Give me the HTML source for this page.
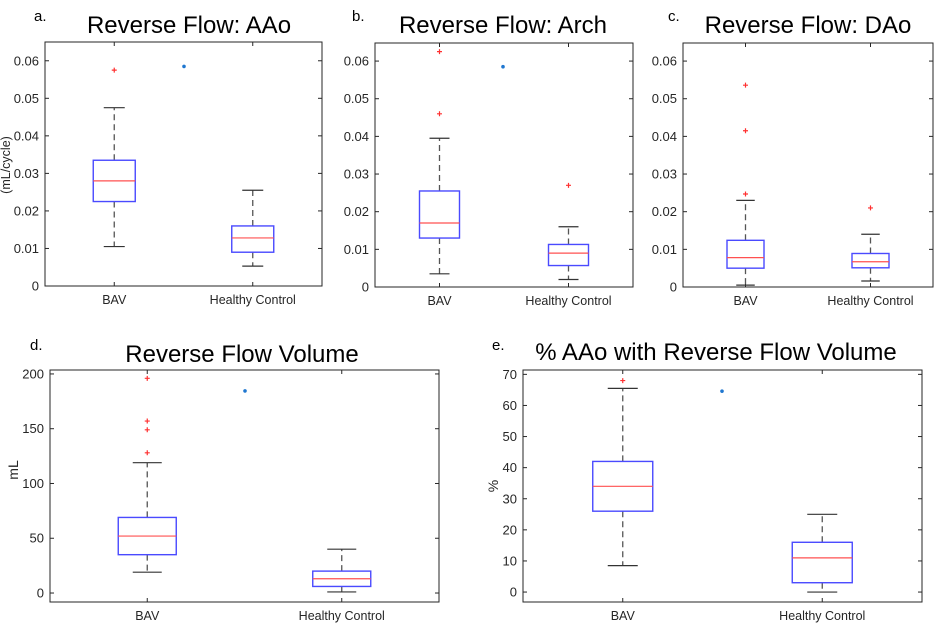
<!DOCTYPE html>
<html><head><meta charset="utf-8"><style>
html,body{margin:0;padding:0;background:#fff;}
svg{display:block;font-family:"Liberation Sans",Arial,sans-serif;}
</style></head><body>
<svg id="s" width="949" height="629" xmlns="http://www.w3.org/2000/svg"></svg>
<script>
const S=document.getElementById('s');let h='';
function panel(p){
 const {L,R,T,B,ymin,ymax,ticks,fmt}=p;
 const Y=v=>B-(v-ymin)/(ymax-ymin)*(B-T);
 const cx=[L+(R-L)*0.25,L+(R-L)*0.75];
 h+=`<rect x="${L}" y="${T}" width="${R-L}" height="${B-T}" fill="none" stroke="#262626" stroke-width="1"/>`;
 ticks.forEach(t=>{const y=Y(t);
  h+=`<line x1="${L}" x2="${L+4}" y1="${y}" y2="${y}" stroke="#262626"/><line x1="${R}" x2="${R-4}" y1="${y}" y2="${y}" stroke="#262626"/>`;
  h+=`<text x="${L-6}" y="${y+4.5}" font-size="13" fill="#262626" text-anchor="end">${fmt(t)}</text>`;});
 ['BAV','Healthy Control'].forEach((n,i)=>{const x=cx[i];
  h+=`<line x1="${x}" x2="${x}" y1="${B}" y2="${B-4}" stroke="#262626"/><line x1="${x}" x2="${x}" y1="${T}" y2="${T+4}" stroke="#262626"/>`;
  h+=`<text x="${x}" y="${B+18}" font-size="12.5" fill="#262626" text-anchor="middle">${n}</text>`;});
 p.boxes.forEach((b,i)=>{const x=cx[i],w=p.bw,cw=w/2;
  const [wl,q1,md,q3,wh]=b.v;
  h+=`<line x1="${x}" x2="${x}" y1="${Y(q3)}" y2="${Y(wh)}" stroke="#555" stroke-dasharray="6,4" stroke-width="1.3"/>`;
  h+=`<line x1="${x}" x2="${x}" y1="${Y(q1)}" y2="${Y(wl)}" stroke="#555" stroke-dasharray="6,4" stroke-width="1.3"/>`;
  h+=`<line x1="${x-cw/2}" x2="${x+cw/2}" y1="${Y(wh)}" y2="${Y(wh)}" stroke="#333" stroke-width="1.2"/>`;
  h+=`<line x1="${x-cw/2}" x2="${x+cw/2}" y1="${Y(wl)}" y2="${Y(wl)}" stroke="#333" stroke-width="1.2"/>`;
  h+=`<rect x="${x-w/2}" y="${Y(q3)}" width="${w}" height="${Y(q1)-Y(q3)}" fill="#fff" stroke="#4a4aff" stroke-width="1.4"/>`;
  h+=`<line x1="${x-w/2}" x2="${x+w/2}" y1="${Y(md)}" y2="${Y(md)}" stroke="#ff5050" stroke-width="1.2"/>`;
  (b.o||[]).forEach(o=>{const y=Y(o);
   h+=`<path d="M${x-2.5} ${y}h5M${x} ${y-2.5}v5" stroke="#ff3030" stroke-width="1.2"/>`;});});
 h+=`<circle cx="${p.dot[0]}" cy="${Y(p.dot[1])}" r="1.8" fill="#1f77d0"/>`;
 h+=`<text x="${p.tx}" y="${p.ty}" font-size="24" fill="#000" text-anchor="middle">${p.title}</text>`;
 h+=`<text x="${p.lx}" y="${p.ly}" font-size="15" fill="#000">${p.lab}</text>`;
 if(p.yl) h+=`<text transform="translate(${p.yl[0]},${p.yl[1]}) rotate(-90)" font-size="${p.yl[3]||13}" fill="#262626" text-anchor="middle">${p.yl[2]}</text>`;
}
const f2=t=>t===0?'0':t.toFixed(2);
const tk=[0,0.01,0.02,0.03,0.04,0.05,0.06];
panel({L:45,R:322,T:42,B:286,ymin:0,ymax:0.065,ticks:tk,fmt:f2,bw:42,
 boxes:[{v:[0.0105,0.0225,0.028,0.0335,0.0475],o:[0.0575]},{v:[0.0053,0.009,0.0128,0.016,0.0255]}],
 dot:[184,0.0585],title:'Reverse Flow: AAo',tx:189,ty:33,lab:'a.',lx:34,ly:21,yl:[10,165,'(mL/cycle)',12.5]});
panel({L:375,R:633,T:43,B:287,ymin:0,ymax:0.0648,ticks:tk,fmt:f2,bw:40,
 boxes:[{v:[0.0035,0.013,0.017,0.0255,0.0395],o:[0.0625,0.046]},{v:[0.002,0.0057,0.009,0.0113,0.016],o:[0.027]}],
 dot:[503,0.0585],title:'Reverse Flow: Arch',tx:503,ty:33,lab:'b.',lx:352,ly:21});
panel({L:683,R:933,T:43,B:287,ymin:0,ymax:0.0648,ticks:tk,fmt:f2,bw:37,
 boxes:[{v:[0.0005,0.005,0.0078,0.0124,0.023],o:[0.0536,0.0415,0.0247]},{v:[0.0016,0.0051,0.0067,0.0089,0.014],o:[0.021]}],
 dot:[-10,0],title:'Reverse Flow: DAo',tx:808,ty:33,lab:'c.',lx:668,ly:21});
panel({L:50,R:439,T:370,B:602,ymin:-8.2,ymax:203.6,ticks:[0,50,100,150,200],fmt:t=>''+t,bw:58,
 boxes:[{v:[19,35,52,69,119],o:[196,157,149,128]},{v:[1,6,13,20,40]}],
 dot:[245,184.5],title:'Reverse Flow Volume',tx:242,ty:362,lab:'d.',lx:30,ly:350,yl:[18,470,'mL',14]});
panel({L:523,R:922,T:370,B:602,ymin:-3.2,ymax:71.4,ticks:[0,10,20,30,40,50,60,70],fmt:t=>''+t,bw:60,
 boxes:[{v:[8.5,26,34,42,65.5],o:[68]},{v:[0,3,11,16,25]}],
 dot:[722,64.6],title:'% AAo with Reverse Flow Volume',tx:716,ty:360,lab:'e.',lx:492,ly:350,yl:[498,486,'%',14]});
S.innerHTML=h;
</script>
</body></html>
